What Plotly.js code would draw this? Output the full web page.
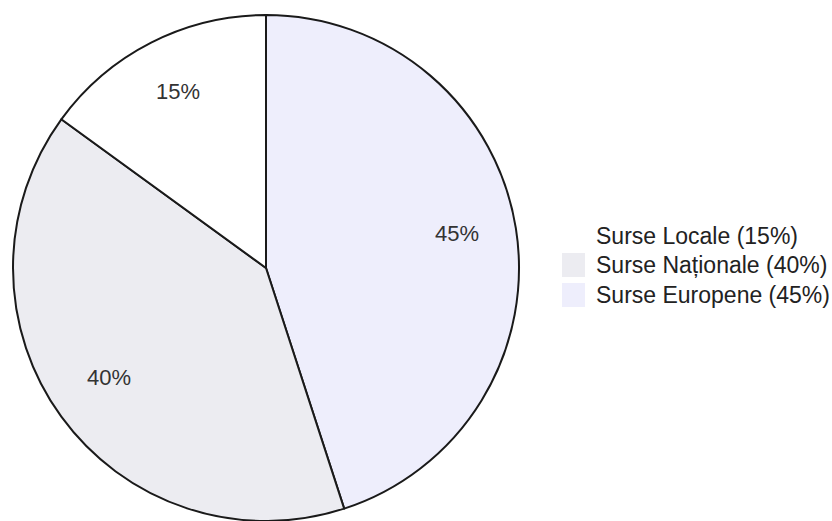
<!DOCTYPE html>
<html>
<head>
<meta charset="utf-8">
<script src="https://cdn.plot.ly/plotly-3.0.1.min.js"></script>
<style>html,body{margin:0;padding:0;background:#fff;}#chart{width:832px;height:521px;}</style>
</head>
<body>
<div id="chart"></div>
<script>
// legend order
const labels = ["Surse Locale (15%)", "Surse Naționale (40%)", "Surse Europene (45%)"];
const values = [15, 40, 45];
const sliceText = ["15%", "40%", "45%"];
const colors = ["#ffffff", "#ececf1", "#eeeefc"];

const W = 832, H = 521;
const font = "Liberation Sans, Arial, sans-serif";

// pie geometry (pixels)
const pieX = [13, 519], pieY = [15, 521];
const cx = (pieX[0] + pieX[1]) / 2;
const R = Math.min(pieX[1] - pieX[0], pieY[1] - pieY[0]) / 2;
const cy = pieY[1] - R;

// drawn clockwise from 12 o'clock in reverse legend order
const order = [2, 1, 0];
const total = values.reduce((a, b) => a + b, 0);

const shapes = [], annotations = [];
let acc = 0;
order.forEach(i => {
  const mid = (acc + values[i] / 2) / total * 2 * Math.PI;
  acc += values[i];
  const r = 0.765 * R;
  annotations.push({
    xref: "paper", yref: "paper",
    x: (cx + r * Math.sin(mid)) / W, y: 1 - (cy - r * Math.cos(mid) - 4) / H,
    xanchor: "center", yanchor: "middle", showarrow: false, text: sliceText[i],
    font: {family: font, size: 22, color: "#333333"}
  });
});

// legend drawn as swatches + text
const legX0 = 562, legX1 = 585, legTextX = 594;
const legRowsY = [236, 265, 295];
labels.forEach((lab, i) => {
  shapes.push({
    type: "rect", xref: "paper", yref: "paper",
    x0: legX0 / W, x1: legX1 / W,
    y0: 1 - (legRowsY[i] - 12) / H, y1: 1 - (legRowsY[i] + 12) / H,
    fillcolor: colors[i], line: {width: 0}
  });
  annotations.push({
    xref: "paper", yref: "paper", x: legTextX / W, y: 1 - legRowsY[i] / H,
    xanchor: "left", yanchor: "middle", showarrow: false, text: lab,
    font: {family: font, size: 23, color: "#222222"}
  });
});

Plotly.newPlot("chart", [{
  type: "pie",
  labels: order.map(i => labels[i]),
  values: order.map(i => values[i]),
  textinfo: "none",
  sort: false,
  direction: "clockwise",
  rotation: 0,
  marker: {colors: order.map(i => colors[i]), line: {color: "#1a1a1a", width: 2}},
  domain: {x: [pieX[0] / W, pieX[1] / W], y: [1 - pieY[1] / H, 1 - pieY[0] / H]},
  hoverinfo: "label"
}], {
  width: W,
  height: H,
  margin: {l: 0, r: 0, t: 0, b: 0},
  paper_bgcolor: "#ffffff",
  showlegend: false,
  shapes: shapes,
  annotations: annotations
}, {displayModeBar: false, staticPlot: true});
</script>
</body>
</html>
